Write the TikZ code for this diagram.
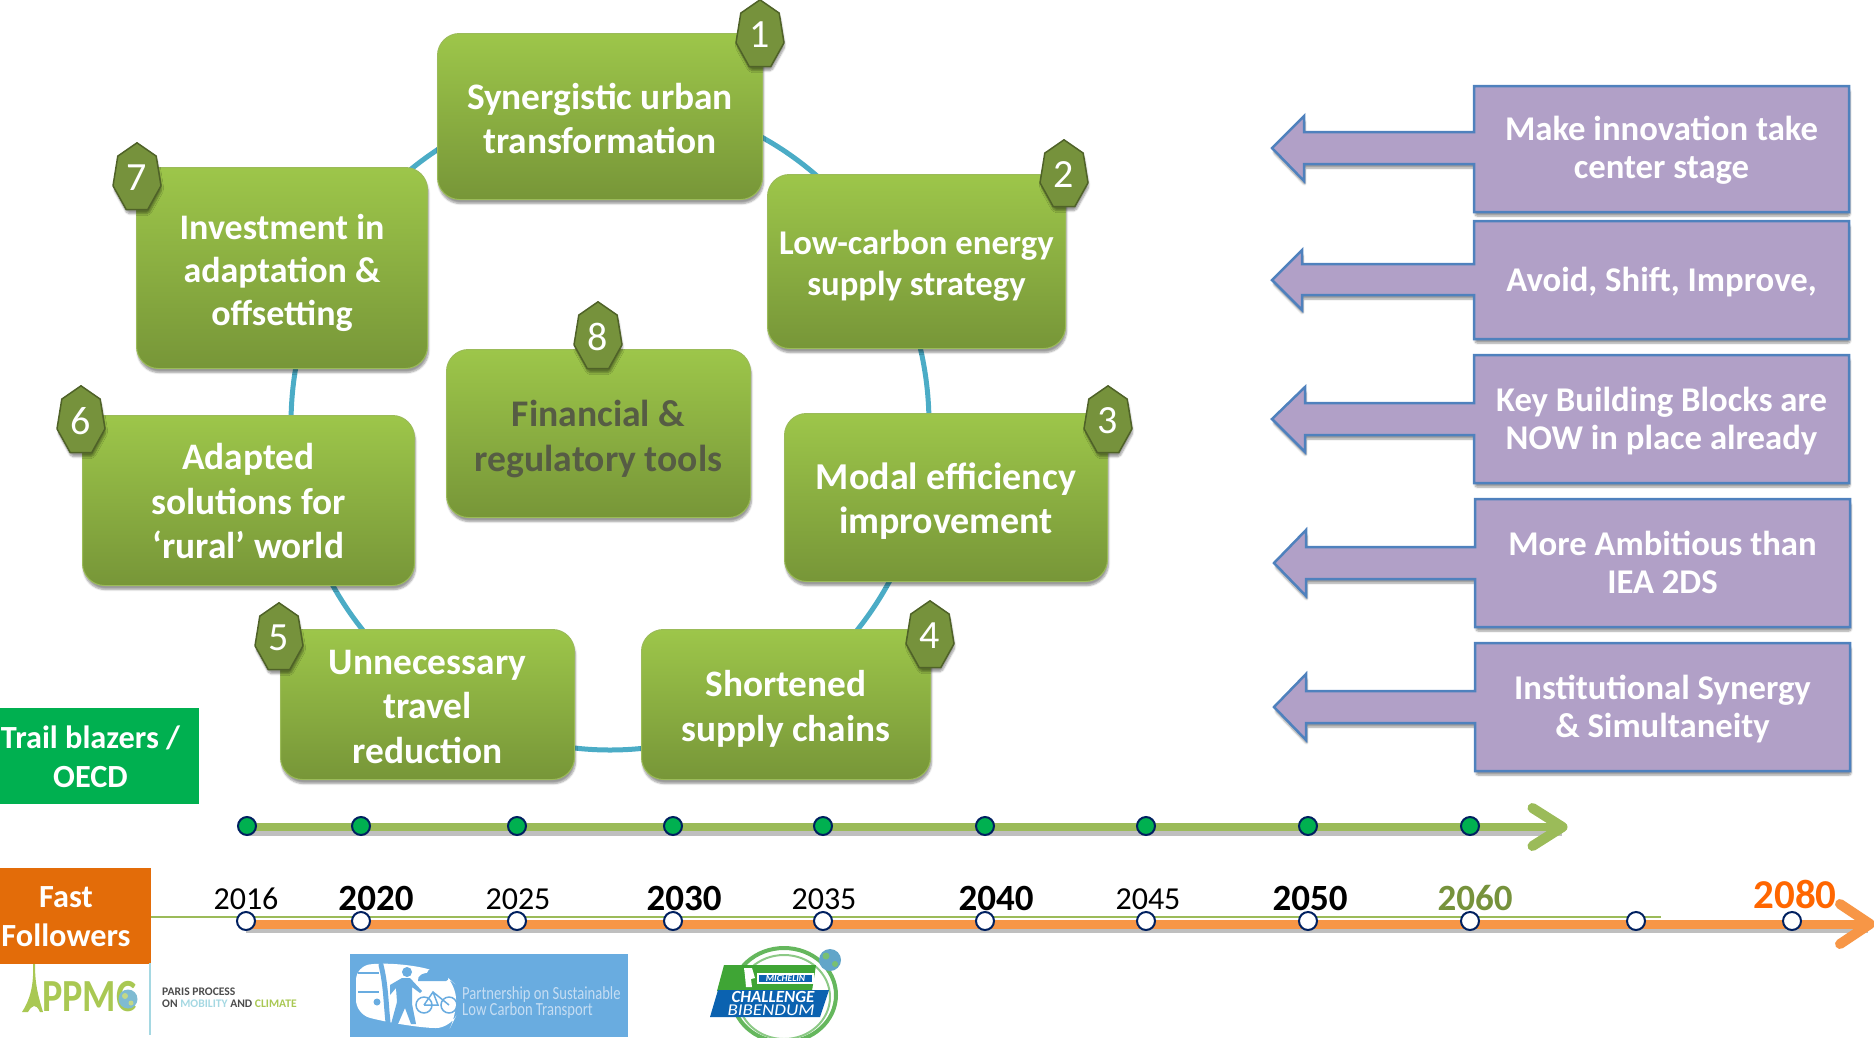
\documentclass[tikz,border=0pt]{standalone}
\usepackage{fontspec}
\setmainfont{Carlito}
\usetikzlibrary{shapes.geometric,arrows.meta,shadows.blur,calc}
\definecolor{gtop}{HTML}{9DC64A}
\definecolor{gbot}{HTML}{779638}
\definecolor{gedge}{HTML}{9BBB59}
\definecolor{badgefill}{HTML}{76923C}
\definecolor{badgeedge}{HTML}{4F6228}
\definecolor{ringblue}{HTML}{4BACC6}
\definecolor{purp}{HTML}{B1A0C7}
\definecolor{purpedge}{HTML}{4F81BD}
\definecolor{orangeline}{HTML}{F79646}
\definecolor{lineg}{HTML}{9BBB59}
\definecolor{navy}{HTML}{002060}
\definecolor{dotg}{HTML}{00B050}
\definecolor{ffo}{HTML}{E36C09}
\definecolor{y80}{HTML}{FF6600}
\definecolor{pslt}{HTML}{69ACE0}
\definecolor{pslttext}{HTML}{C5DDF3}
\definecolor{ppmcg}{HTML}{A9C853}
\definecolor{ppmcb}{HTML}{A5D8E2}
\definecolor{globeb}{HTML}{7FBBD2}
\definecolor{mgreen}{HTML}{3FA535}
\definecolor{mblue}{HTML}{0B62B0}
\definecolor{fintext}{HTML}{565C44}
\newcommand{\fs}[2]{\fontsize{#1}{#2}\selectfont}
\newcommand{\numbadge}[4]{%
  \draw[badgeshape,shift={(#2,#3)}] (0,-35.2)--(19.2,-21.9)--(24,7.8)--(10.7,31.7)--(-10.7,31.7)--(-24,7.8)--(-19.2,-21.9)--cycle;
  \node[badgedigit] (#1) at (#2,#3) {#4};}
\tikzset{
  softshadow/.style={blur shadow={shadow xshift=1pt,shadow yshift=-4pt,shadow blur steps=6,shadow blur extra rounding=2pt,shadow opacity=40}},
  greenbox/.style={rectangle,rounded corners=22pt,draw=gedge,line width=1pt,top color=gtop,bottom color=gbot,softshadow,inner sep=0pt},
  boxtext/.style={text=white,align=center,inner sep=0pt},
  badgeshape/.style={fill=badgefill,draw=badgeedge,line width=1.5pt,line join=round,softshadow},
  badgedigit/.style={inner sep=0pt,text=white,font=\fs{40}{40}},
  calloutshape/.style={fill=purp,draw=purpedge,line width=2.5pt,line join=miter,softshadow},
  callouttext/.style={text=white,align=center,inner sep=0pt,font=\fs{34.7}{38}\bfseries},
  tagbox/.style={rectangle,inner sep=0pt},
  tagtext/.style={text=white,align=center,inner sep=0pt,font=\fs{32.3}{39}\bfseries},
  gdot/.style={circle,minimum size=18pt,inner sep=0pt,fill=dotg,draw=navy,line width=2pt},
  wdot/.style={circle,minimum size=18pt,inner sep=0pt,fill=white,draw=navy,line width=2pt},
  yr/.style={inner sep=0pt,text=black,font=\fs{32}{32}},
  yrb/.style={inner sep=0pt,text=black,font=\fs{37}{37}\bfseries},
  lineshadow/.style={black,opacity=.25,line width=8pt},
}
\begin{document}
\begin{tikzpicture}[x=1pt,y=-1pt]
\useasboundingbox (0,0) rectangle (1874,1037);
% ring behind the boxes
\draw[ringblue,line width=5pt] (610,424) ellipse [x radius=319,y radius=326];
% green boxes
\node[greenbox,minimum width=325pt,minimum height=166pt] (b1) at (600,116.5) {};
\node[boxtext,font=\fs{37.4}{44}\bfseries] (t1) at ($(b1)+(0,2.4)$) {Synergistic urban\\transformation};
\node[greenbox,minimum width=298pt,minimum height=174pt] (b2) at (916.5,261.5) {};
\node[boxtext,font=\fs{34.7}{41}\bfseries] (t2) at ($(b2)+(0,4)$) {Low-carbon energy\\supply strategy};
\node[greenbox,minimum width=323pt,minimum height=168pt] (b3) at (946,497.5) {};
\node[boxtext,font=\fs{38}{44}\bfseries] (t3) at ($(b3)+(0,3.6)$) {Modal efficiency\\improvement};
\node[greenbox,minimum width=289pt,minimum height=150pt] (b4) at (786,704.5) {};
\node[boxtext,font=\fs{37.3}{45}\bfseries] (t4) at ($(b4)+(0,4.8)$) {Shortened\\supply chains};
\node[greenbox,minimum width=294pt,minimum height=150pt] (b5) at (427.5,704.5) {};
\node[boxtext,font=\fs{37.4}{44.5}\bfseries] (t5) at ($(b5)+(0,2.2)$) {Unnecessary\\travel\\reduction};
\node[greenbox,minimum width=332pt,minimum height=170pt] (b6) at (248.5,500.5) {};
\node[boxtext,font=\fs{37.4}{44.5}\bfseries] (t6) at ($(b6)+(0,0.6)$) {Adapted\\solutions for\\‘rural’ world};
\node[greenbox,minimum width=291pt,minimum height=201pt] (b7) at (282,268) {};
\node[boxtext,font=\fs{36}{43}\bfseries] (t7) at ($(b7)+(0,4.8)$) {Investment in\\adaptation \&\\offsetting};
\node[greenbox,minimum width=304pt,minimum height=168pt] (b8) at (598.5,433.5) {};
\node[boxtext,font=\fs{37.6}{45}\bfseries,text=fintext] (t8) at ($(b8)+(0,5)$) {Financial \&\\regulatory tools};
% badges
\numbadge{n1}{760}{35}{1}
\numbadge{n2}{1064}{175}{2}
\numbadge{n3}{1108}{421}{3}
\numbadge{n4}{930}{636}{4}
\numbadge{n5}{279}{638}{5}
\numbadge{n6}{81}{421}{6}
\numbadge{n7}{137}{178}{7}
\numbadge{n8}{598}{337}{8}
% purple callouts
\draw[calloutshape] (1474,86)--(1849,86)--(1849,212)--(1474,212)--(1474,164)--(1304,164)--(1304,181)--(1272,148)--(1304,116)--(1304,132)--(1474,132)--cycle;
\node[callouttext] (c1) at (1661.5,150) {Make innovation take\\center stage};
\draw[calloutshape] (1474,221)--(1849,221)--(1849,339)--(1474,339)--(1474,295)--(1302,295)--(1302,310)--(1272,280)--(1302,250)--(1302,264)--(1474,264)--cycle;
\node[callouttext] (c2) at (1661.5,282) {Avoid, Shift, Improve,};
\draw[calloutshape] (1474,355)--(1849,355)--(1849,483)--(1474,483)--(1474,435)--(1305,435)--(1305,452)--(1272,419)--(1305,387)--(1305,403)--(1474,403)--cycle;
\node[callouttext] (c3) at (1661.5,421) {Key Building Blocks are\\NOW in place already};
\draw[calloutshape] (1475,499)--(1850,499)--(1850,627)--(1475,627)--(1475,579)--(1306,579)--(1306,596)--(1274,563)--(1306,530)--(1306,547)--(1475,547)--cycle;
\node[callouttext] (c4) at (1662.5,562.5) {More Ambitious than\\IEA 2DS};
\draw[calloutshape] (1475,643)--(1850,643)--(1850,771)--(1475,771)--(1475,723)--(1306,723)--(1306,740)--(1274,707)--(1306,674)--(1306,691)--(1475,691)--cycle;
\node[callouttext] (c5) at (1662.5,709) {Institutional Synergy\\\& Simultaneity};
% side tags
\node[tagbox,fill=dotg,minimum width=199pt,minimum height=96pt] (trail) at (99.5,756) {};
\node[tagtext] (trailt) at (90.5,757) {Trail blazers /\\OECD};
\node[tagbox,fill=ffo,minimum width=151pt,minimum height=96pt] (fast) at (75.5,916) {};
\node[tagtext] (fastt) at (66,917) {Fast\\Followers};
% green timeline
\coordinate (gs) at (246,827);
\coordinate (ge) at (1567.5,827);
\draw[lineshadow] ($(gs)+(0,5)$) -- ($(ge)+(-6,5)$);
\draw[lineg,line width=8pt,-{Straight Barb[length=30pt,width=38pt,round,line width=10pt]}] (gs) -- (ge);
\foreach \i/\x in {1/247,2/361,3/517,4/673,5/823,6/985,7/1146,8/1308,9/1470}
  \node[gdot] (g\i) at (\x,826) {};
% orange timeline
\coordinate (os) at (246,924);
\coordinate (oe) at (1875,924);
\draw[lineshadow] ($(os)+(0,5)$) -- ($(oe)+(-7,5)$);
\draw[orangeline,line width=9pt,-{Straight Barb[length=30pt,width=40pt,round,line width=10pt]}] (os) -- (oe);
\coordinate (ts) at (151,917);
\coordinate (te) at (1661,917);
\draw[lineg,line width=2pt] (ts) -- (te);
\foreach \i/\x in {1/246,2/361,3/517,4/673,5/823,6/985,7/1146,8/1308,9/1470,10/1636,11/1792}
  \node[wdot] (w\i) at (\x,921) {};
% years
\node[yr] (y16) at (246,899) {2016};
\node[yrb] (y20) at (376,898) {2020};
\node[yr] (y25) at (518,899) {2025};
\node[yrb] (y30) at (684,898) {2030};
\node[yr] (y35) at (824,899) {2035};
\node[yrb] (y40) at (996,898) {2040};
\node[yr] (y45) at (1148,899) {2045};
\node[yrb] (y50) at (1310,898) {2050};
\node[yrb,text=badgefill] (y60) at (1475,898) {2060};
\node[yrb,text=y80,font=\fs{41}{41}\bfseries] (y80n) at (1795,894) {2080};
% PPMC logo
\fill[ppmcg] (33,964) .. controls (34,985) and (30,1000) .. (22,1012) -- (28,1012) .. controls (32,1005) and (36,1003) .. (40,1012) -- (43,1012) .. controls (38,995) and (35,985) .. (35,964) -- cycle;
\node[inner sep=0pt,anchor=west,text=ppmcg,font=\fs{46}{46}\bfseries] (ppmc) at (42,997) {\addfontfeature{FakeStretch=0.83}PPMC};
\fill[globeb] (128,999) circle (9.5);
\fill[ppmcg!70!white] (125,996) circle (3) (131,1003) circle (2.5);
\draw[ppmcb,line width=2.5pt] (150,963) -- (150,1035);
\node[inner sep=0pt,anchor=west,text=black!70,font=\fs{11.6}{11.6}\bfseries] (pp1) at (162,992) {PARIS PROCESS};
\node[inner sep=0pt,anchor=west,text=black!70,font=\fs{11.6}{11.6}\bfseries] (pp2) at (162,1003.5) {ON \textcolor{ppmcb}{MOBILITY} AND \textcolor{ppmcg}{CLIMATE}};
% PSLT logo
\fill[pslt] (350,954) rectangle (628,1037);
\fill[white,rounded corners=14pt] (356,966) .. controls (390,962) and (420,966) .. (445,975) -- (456,985) -- (456,1016) -- (450,1028) .. controls (420,1028) and (385,1022) .. (356,1014) -- cycle;
\draw[pslt,line width=1.5pt] (358,973) -- (379,973);
\draw[pslt,line width=1.5pt] (358,992) -- (379,992);
\fill[pslt] (377,1002) circle (3.5);
\draw[pslt,line width=5pt,line cap=round] (381,965) .. controls (386,985) and (386,1005) .. (388,1022);
\fill[pslt] (407,972) circle (5);
\fill[pslt] (390,985) -- (402,978) -- (410,978) -- (422,991) -- (420,993) -- (412,987) -- (412,1004) -- (416,1024) -- (411,1024) -- (405,1008) -- (398,1024) -- (391,1024) -- (397,1002) -- (396,988) -- (390,995) -- cycle;
\fill[pslt] (418,981) .. controls (417,975) and (424,973) .. (427,973) .. controls (430,965) and (442,966) .. (444,973) .. controls (450,974) and (449,981) .. (446,981) -- cycle;
\draw[pslt,line width=1.5pt] (424,1005) circle (8);
\draw[pslt,line width=1.5pt] (449,1005) circle (8);
\draw[pslt,line width=1.5pt] (424,1005) -- (433,992) -- (449,1005) (433,992) -- (438,1005) -- (424,1005);
\node[inner sep=0pt,anchor=west,text=pslttext,font=\fs{18.5}{18.5}] (ps1) at (462,995) {\addfontfeature{FakeStretch=0.79}Partnership on Sustainable};
\node[inner sep=0pt,anchor=west,text=pslttext,font=\fs{18.5}{18.5}] (ps2) at (462,1011) {\addfontfeature{FakeStretch=0.79}Low Carbon Transport};
% Michelin logo
\draw[mgreen!80!white,line width=4pt] (784,995) ellipse [x radius=52,y radius=47];
\draw[mgreen!60!white,line width=2pt] (784,997) ellipse [x radius=46,y radius=42];
\fill[mgreen] (724,965) -- (816,965) -- (812,991) -- (717,991) -- cycle;
\fill[mblue] (718,990) -- (829,990) -- (820,1017) -- (710,1017) -- cycle;
\fill[white] (744,968) -- (752,968) -- (755,978) -- (751,979) -- (752,987) -- (746,987) -- (745,976) -- cycle;
\fill[white] (757,973) rectangle (814,984);
\fill[mblue] (759,975) rectangle (812,982);
\node[inner sep=0pt,text=white,font=\fs{9.5}{9.5}\bfseries\itshape] (mi) at (785.5,978.5) {MICHELIN};
\node[inner sep=0pt,text=white,font=\fs{17}{17}\bfseries\itshape] (ch) at (773,996.5) {CHALLENGE};
\node[inner sep=0pt,text=white,font=\fs{16.5}{16.5}\itshape] (bi) at (771,1010.5) {\addfontfeature{FakeStretch=1.15}BIBENDUM};
\fill[globeb!75!mblue] (830,960) circle (11);
\fill[mgreen!70!white] (826,956) circle (3.5) (835,964) circle (3);
\end{tikzpicture}
\end{document}
